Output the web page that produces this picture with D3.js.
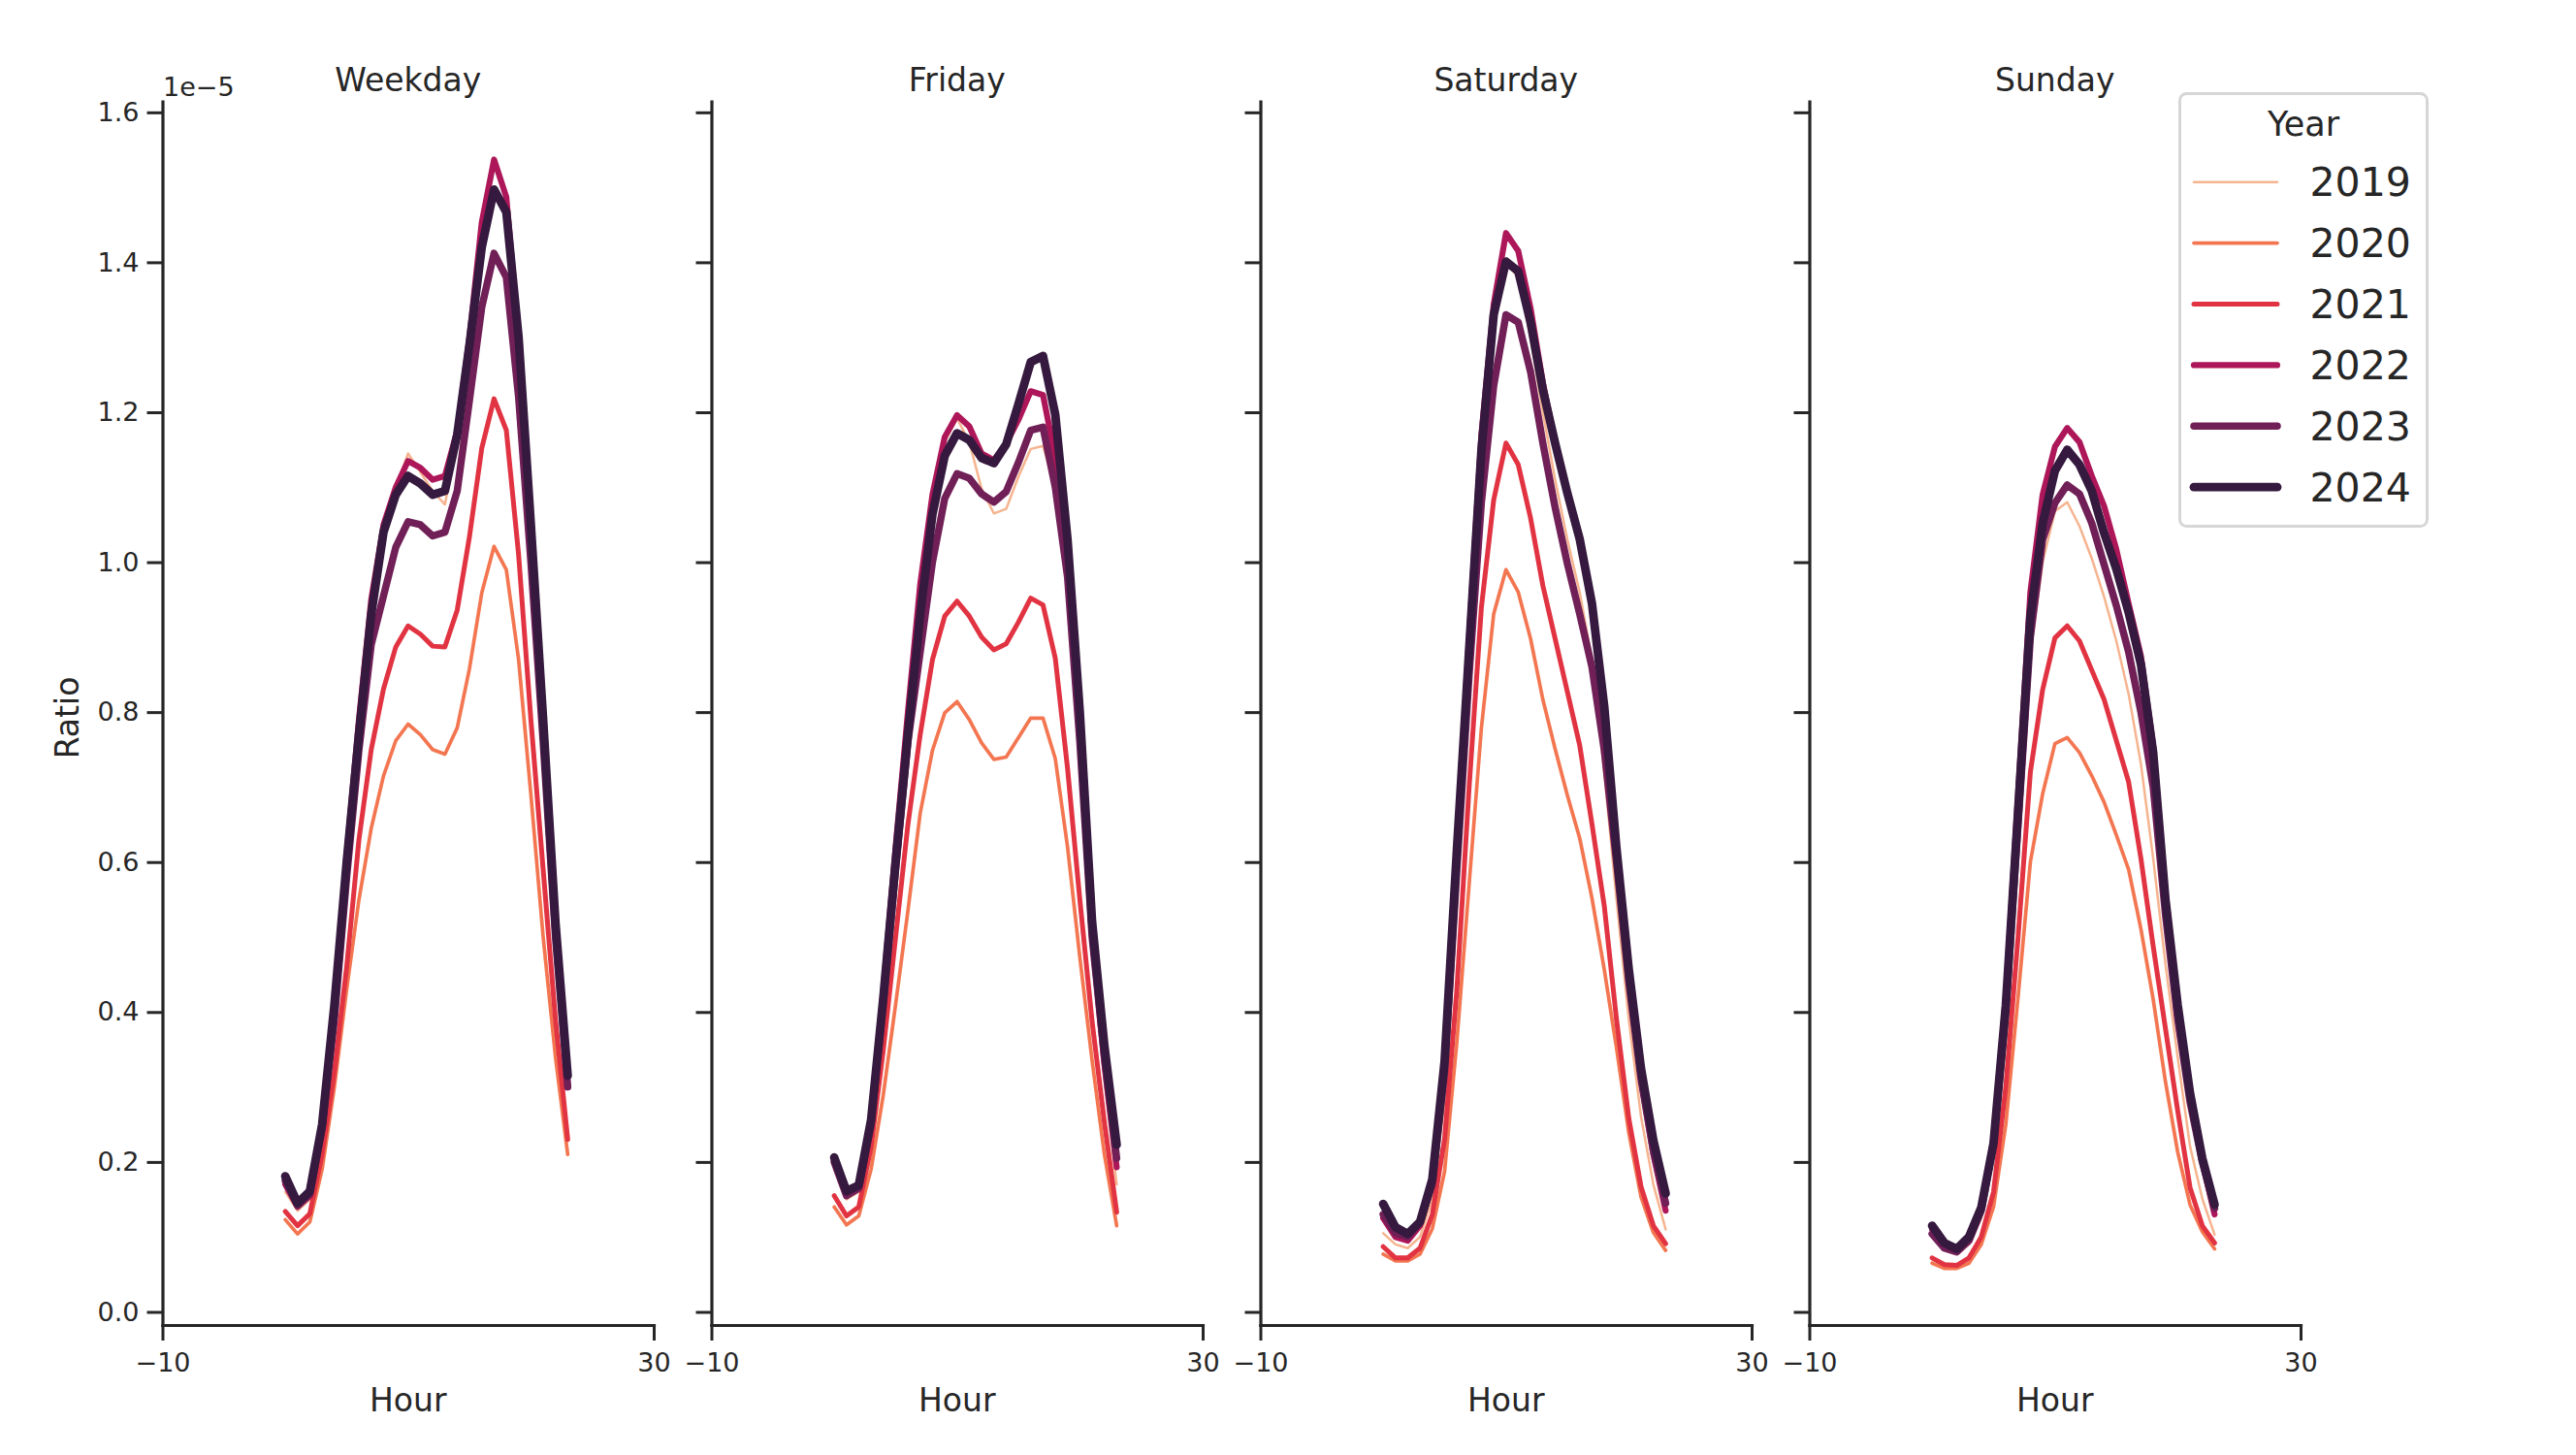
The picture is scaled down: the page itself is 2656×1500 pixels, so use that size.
<!DOCTYPE html>
<html><head><meta charset="utf-8">
<script src="https://cdn.jsdelivr.net/npm/d3@7"></script>
<style>
body{margin:0;background:#fff}
svg{display:block}
text{font-family:"DejaVu Sans",sans-serif;fill:#262626}
</style>
</head><body>
<svg id="chart" width="2656" height="1500"></svg>
<script>
// ---- data (Ratio values in units of 1e-5) ----
const hours = [0,1,2,3,4,5,6,7,8,9,10,11,12,13,14,15,16,17,18,19,20,21,22,23];
const panels = ["Weekday","Friday","Saturday","Sunday"];
const years = ["2019","2020","2021","2022","2023","2024"];
const yearColors = ["#f6b48f","#f37651","#e13342","#ad1759","#701f57","#35193e"];
const yearWidths = [2.5,3.7,5.0,6.2,7.5,8.8];
const xTicks = [-10,30];
const yTicks = [0,0.2,0.4,0.6,0.8,1.0,1.2,1.4,1.6];

const weekday = [
  [0.16,0.135,0.15,0.24,0.40,0.60,0.78,0.95,1.05,1.10,1.145,1.12,1.095,1.077,1.16,1.29,1.42,1.50,1.46,1.28,1.02,0.77,0.50,0.30],
  [0.123,0.104,0.12,0.19,0.30,0.43,0.55,0.645,0.715,0.762,0.784,0.770,0.750,0.744,0.779,0.858,0.959,1.021,0.990,0.87,0.69,0.50,0.34,0.21],
  [0.134,0.115,0.131,0.21,0.32,0.46,0.63,0.75,0.831,0.887,0.915,0.904,0.888,0.887,0.936,1.034,1.152,1.218,1.176,1.01,0.79,0.59,0.39,0.23],
  [0.17,0.14,0.155,0.25,0.41,0.61,0.79,0.95,1.05,1.10,1.135,1.126,1.11,1.115,1.175,1.30,1.453,1.537,1.487,1.30,1.04,0.78,0.51,0.30],
  [0.175,0.142,0.157,0.245,0.39,0.58,0.75,0.89,0.955,1.02,1.054,1.05,1.035,1.040,1.095,1.216,1.34,1.412,1.38,1.22,1.00,0.76,0.50,0.30],
  [0.181,0.145,0.161,0.25,0.41,0.60,0.77,0.93,1.04,1.09,1.115,1.105,1.09,1.095,1.17,1.29,1.42,1.497,1.467,1.30,1.05,0.79,0.52,0.315]
];
const friday = [
  [0.19,0.15,0.16,0.25,0.42,0.61,0.79,0.96,1.08,1.16,1.192,1.16,1.098,1.065,1.071,1.114,1.151,1.155,1.10,0.98,0.75,0.49,0.31,0.17],
  [0.14,0.116,0.128,0.19,0.29,0.41,0.535,0.665,0.749,0.799,0.814,0.790,0.759,0.737,0.740,0.766,0.792,0.792,0.738,0.62,0.473,0.335,0.21,0.115],
  [0.155,0.128,0.14,0.22,0.35,0.50,0.65,0.77,0.87,0.928,0.948,0.928,0.90,0.883,0.891,0.92,0.952,0.943,0.872,0.725,0.55,0.387,0.253,0.133],
  [0.20,0.155,0.165,0.26,0.43,0.62,0.80,0.97,1.09,1.167,1.196,1.181,1.145,1.136,1.158,1.19,1.228,1.223,1.14,0.99,0.77,0.50,0.33,0.193],
  [0.20,0.155,0.165,0.25,0.41,0.59,0.76,0.88,1.00,1.085,1.118,1.112,1.091,1.080,1.094,1.133,1.176,1.180,1.10,0.98,0.76,0.50,0.34,0.205],
  [0.206,0.161,0.169,0.256,0.42,0.60,0.77,0.93,1.064,1.142,1.172,1.163,1.139,1.132,1.157,1.211,1.267,1.275,1.197,1.03,0.80,0.52,0.355,0.223]
];
const saturday = [
  [0.105,0.09,0.085,0.10,0.15,0.28,0.55,0.85,1.12,1.32,1.40,1.38,1.30,1.20,1.11,1.03,0.96,0.87,0.72,0.55,0.39,0.26,0.17,0.11],
  [0.077,0.068,0.068,0.077,0.111,0.187,0.36,0.57,0.779,0.931,0.990,0.960,0.898,0.817,0.751,0.689,0.632,0.552,0.457,0.352,0.239,0.153,0.106,0.082],
  [0.087,0.072,0.072,0.085,0.13,0.23,0.43,0.70,0.94,1.083,1.159,1.130,1.059,0.969,0.898,0.827,0.756,0.651,0.542,0.390,0.258,0.167,0.115,0.091],
  [0.125,0.10,0.095,0.115,0.17,0.33,0.62,0.90,1.17,1.344,1.439,1.415,1.339,1.24,1.16,1.09,1.03,0.94,0.80,0.61,0.44,0.31,0.21,0.135],
  [0.13,0.105,0.10,0.12,0.17,0.32,0.59,0.85,1.08,1.235,1.330,1.320,1.254,1.159,1.073,0.998,0.931,0.86,0.75,0.60,0.44,0.31,0.215,0.145],
  [0.144,0.113,0.104,0.120,0.177,0.334,0.616,0.884,1.149,1.330,1.401,1.388,1.320,1.230,1.159,1.092,1.031,0.945,0.808,0.618,0.457,0.324,0.229,0.158]
];
const sunday = [
  [0.10,0.085,0.08,0.09,0.125,0.21,0.39,0.64,0.88,1.00,1.068,1.080,1.048,1.005,0.954,0.895,0.824,0.731,0.605,0.464,0.339,0.221,0.151,0.103],
  [0.065,0.058,0.058,0.065,0.09,0.14,0.25,0.42,0.60,0.691,0.758,0.766,0.746,0.715,0.680,0.636,0.590,0.511,0.417,0.307,0.213,0.143,0.107,0.084],
  [0.072,0.063,0.062,0.072,0.10,0.16,0.30,0.50,0.72,0.83,0.899,0.915,0.895,0.856,0.817,0.762,0.707,0.605,0.488,0.378,0.268,0.166,0.115,0.092],
  [0.11,0.09,0.085,0.10,0.14,0.23,0.42,0.69,0.96,1.09,1.154,1.179,1.160,1.115,1.075,1.017,0.945,0.875,0.755,0.56,0.41,0.29,0.20,0.13],
  [0.104,0.085,0.08,0.095,0.135,0.225,0.40,0.65,0.90,1.03,1.079,1.103,1.091,1.052,0.997,0.942,0.880,0.80,0.70,0.53,0.39,0.28,0.20,0.138],
  [0.115,0.092,0.084,0.100,0.139,0.225,0.409,0.668,0.927,1.052,1.122,1.150,1.130,1.095,1.039,0.991,0.933,0.864,0.746,0.550,0.409,0.292,0.205,0.143]
];
const panelData = [weekday, friday, saturday, sunday];

// ---- layout ----
const svg = d3.select("#chart");
const ink = "#262626";
const panelLefts = [167.5, 733.5, 1299.5, 1865.5];
const panelW = 506.5;
const yTop = 104.6, yBot = 1366;

const y = d3.scaleLinear().domain([-0.0175, 1.6145]).range([yBot, yTop]);

panelData.forEach((rows, p) => {
  const x0 = panelLefts[p];
  const x = d3.scaleLinear().domain([-10, 30]).range([x0, x0 + panelW]);
  const g = svg.append("g");

  // y axis
  const ya = g.append("g").attr("transform", `translate(${x0},0)`)
    .call(d3.axisLeft(y).tickValues(yTicks).tickSize(16).tickPadding(8).tickSizeOuter(0)
      .tickFormat(p === 0 ? d3.format(".1f") : () => ""));
  // x axis
  const xa = g.append("g").attr("transform", `translate(0,${yBot})`)
    .call(d3.axisBottom(x).tickValues(xTicks).tickSize(16).tickPadding(13).tickSizeOuter(0)
      .tickFormat(d3.format("d")));
  [ya, xa].forEach(a => {
    a.select(".domain").attr("stroke", ink).attr("stroke-width", 3.2).attr("stroke-linecap", "square");
    a.selectAll(".tick line").attr("stroke", ink).attr("stroke-width", 3);
    a.selectAll(".tick text").attr("font-size", 27).attr("fill", ink)
      .attr("font-family", '"DejaVu Sans",sans-serif');
  });

  // lines
  const line = d3.line().x((d, i) => x(hours[i])).y(d => y(d));
  rows.forEach((vals, k) => {
    g.append("path").datum(vals).attr("d", line)
      .attr("fill", "none").attr("stroke", yearColors[k])
      .attr("stroke-width", yearWidths[k])
      .attr("stroke-linejoin", "round").attr("stroke-linecap", "round");
  });

  // title
  g.append("text").attr("x", x0 + panelW / 2).attr("y", 94)
    .attr("text-anchor", "middle").attr("font-size", 33).text(panels[p]);
  // x label
  g.append("text").attr("x", x0 + panelW / 2).attr("y", 1455)
    .attr("text-anchor", "middle").attr("font-size", 33).text("Hour");
});

// offset text and y label
svg.append("text").attr("x", 168).attr("y", 99).attr("font-size", 27).text("1e\u22125");
svg.append("text").attr("transform", `translate(81,740) rotate(-90)`)
  .attr("text-anchor", "middle").attr("font-size", 33).text("Ratio");

// legend
const lg = svg.append("g");
lg.append("rect").attr("x", 2247.5).attr("y", 96.5).attr("width", 255).attr("height", 446)
  .attr("rx", 7).attr("fill", "#fff").attr("fill-opacity", 0.8)
  .attr("stroke", "#d6d6d6").attr("stroke-width", 3);
lg.append("text").attr("x", 2375).attr("y", 140).attr("text-anchor", "middle")
  .attr("font-size", 35).text("Year");
years.forEach((yr, k) => {
  const ly = 187.7 + k * 62.9;
  lg.append("line").attr("x1", 2262).attr("x2", 2348).attr("y1", ly).attr("y2", ly)
    .attr("stroke", yearColors[k]).attr("stroke-width", yearWidths[k]).attr("stroke-linecap", "round");
  lg.append("text").attr("x", 2381.5).attr("y", ly + 14.5).attr("font-size", 41).text(yr);
});
</script>
</body></html>
